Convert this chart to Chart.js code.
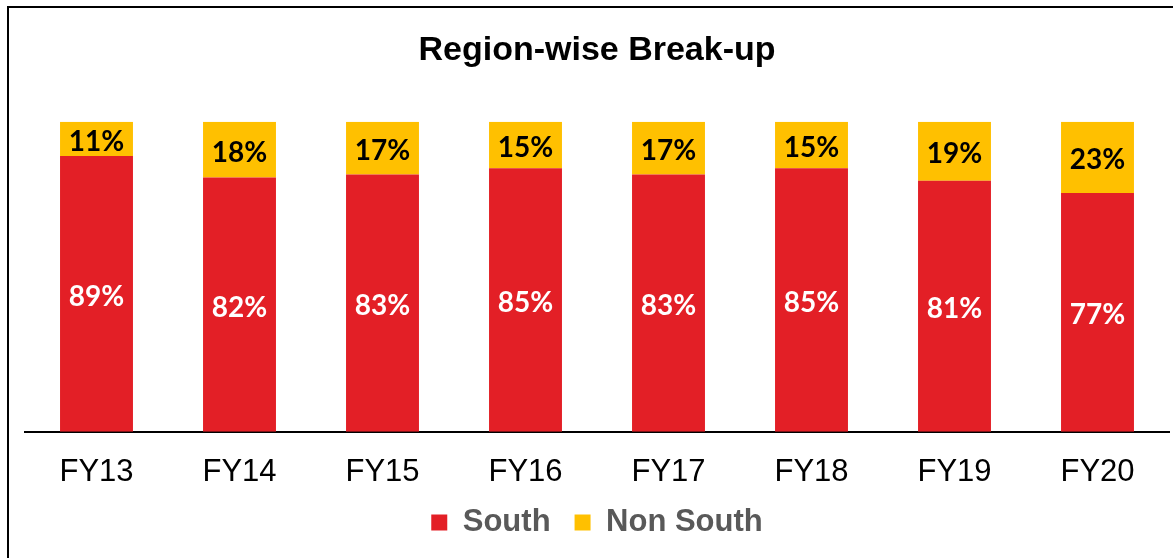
<!DOCTYPE html>
<html>
<head>
<meta charset="utf-8">
<script src="https://cdn.jsdelivr.net/npm/chart.js@4/dist/chart.umd.min.js"></script>
<style>
    html, body { margin: 0; padding: 0; background: #fff; }
    #wrap { position: relative; width: 1173px; height: 558px; overflow: hidden; }
    #frame { position: absolute; left: 7px; top: 6px; width: 1200px; height: 600px;
             border-left: 2px solid #000; border-top: 2px solid #000; }
    #region_chart { position: absolute; left: 0; top: 0; }
</style>
</head>
<body>
<div id="wrap">
    <div id="frame"></div>
    <canvas id="region_chart" width="1173" height="558"></canvas>
</div>
<script>
const years = ['FY13', 'FY14', 'FY15', 'FY16', 'FY17', 'FY18', 'FY19', 'FY20']
const south = [89, 82, 83, 85, 83, 85, 81, 77]
const nonSouth = [11, 18, 17, 15, 17, 15, 19, 23]

// draws the % value in the middle of each bar segment
const segmentLabels = {
    id: 'segmentLabels',
    afterDatasetsDraw(chart) {
        const ctx = chart.ctx
        ctx.save()
        ctx.font = 'bold 28px Lato, "Open Sans", sans-serif'
        ctx.textAlign = 'center'
        ctx.textBaseline = 'middle'
        chart.data.datasets.forEach((ds, i) => {
            chart.getDatasetMeta(i).data.forEach((bar, j) => {
                const p = bar.getProps(['x', 'y', 'base'], true)
                ctx.fillStyle = ds.labelColor
                ctx.fillText(ds.data[j] + '%', p.x, (p.y + p.base) / 2 + 3)
            })
        })
        ctx.restore()
    }
}

let ctx = document.getElementById('region_chart').getContext('2d')

new Chart(ctx, {
    type: 'bar',
    data: {
        labels: years,
        datasets: [
            {
                label: 'South',
                data: south,
                backgroundColor: '#E31F26',
                labelColor: '#FFFFFF',
            },
            {
                label: 'Non South',
                data: nonSouth,
                backgroundColor: '#FFC000',
                labelColor: '#000000',
            }],
    },
    plugins: [segmentLabels],
    options: {
        responsive: false,
        animation: false,
        datasets: {
            bar: {
                categoryPercentage: 1,
                barPercentage: 0.51,
            },
        },
        layout: {
            padding: { left: 25, right: 4, top: 0, bottom: 10 },
        },
        plugins: {
            title: {
                display: true,
                text: 'Region-wise Break-up',
                color: '#000',
                font: { family: 'Arial, "Liberation Sans", sans-serif', size: 34, weight: 'bold' },
                padding: { top: 30, bottom: 51 },
            },
            legend: {
                position: 'bottom',
                labels: {
                    color: '#595959',
                    boxWidth: 16,
                    boxHeight: 16,
                    padding: 24,
                    font: { family: 'Arial, "Liberation Sans", sans-serif', size: 31, weight: 'bold' },
                },
            },
            tooltip: { enabled: false },
        },
        scales: {
            x: {
                stacked: true,
                grid: { display: false, drawTicks: false },
                border: { color: '#000', width: 2 },
                ticks: {
                    color: '#000',
                    padding: 22,
                    font: { family: 'Arial, "Liberation Sans", sans-serif', size: 31 },
                },
                // let the axis sit lower, labels may overlap the legend gap
                afterFit: function (scale) {
                    scale.height -= 30
                },
            },
            y: {
                stacked: true,
                display: false,
                min: 0,
                max: 100,
            },
        },
    },
})
</script>
</body>
</html>
